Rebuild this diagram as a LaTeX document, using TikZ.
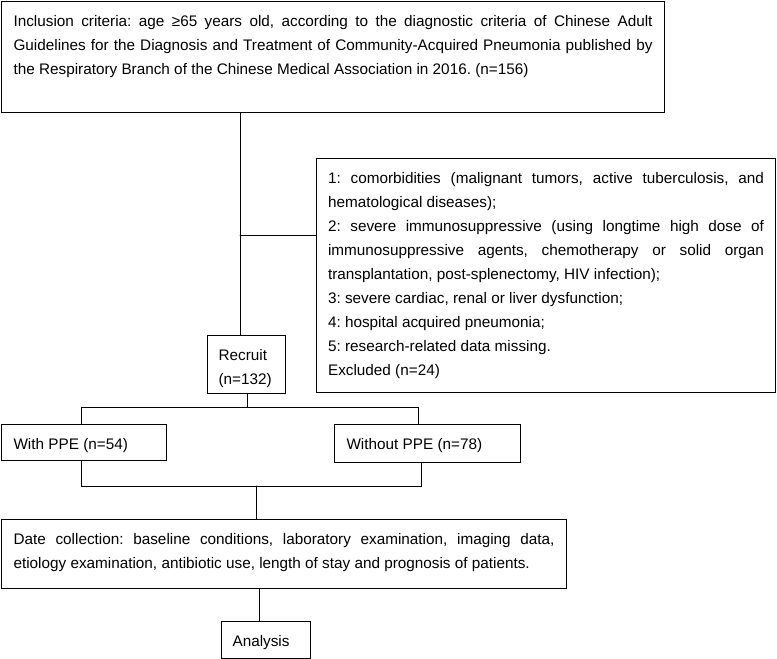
\documentclass[tikz,border=0pt]{standalone}
\usepackage{fontspec}
\setmainfont{Liberation Sans}
\usepackage{tikz}
\hyphenpenalty=10000
\exhyphenpenalty=10000
\tolerance=9999
\frenchspacing

\begin{document}
\begin{tikzpicture}
			[x=1pt,y=-1pt,line cap=round,
			%Styles
			box/.style={draw,line width=1.1pt,anchor=north west,inner xsep=12pt,inner ysep=0pt,
				align=justify,text height=24.5pt,font=\fontsize{15.3pt}{24pt}\selectfont},
			link/.style={line width=0.9pt}
			]
			
			\useasboundingbox (0,0) rectangle (777,659);
			
			%The boxes
			\node[box,text width=639pt,text depth=86.5pt] (inclusion) at (1,1)
				{Inclusion criteria: age ≥65 years old, according to the diagnostic criteria of Chinese Adult\linebreak
				Guidelines for the Diagnosis and Treatment of Community-Acquired Pneumonia published by\linebreak
				the Respiratory Branch of the Chinese Medical Association in 2016. (n=156)};
			\node[box,text width=436pt,inner xsep=11.5pt,text depth=209.5pt] (exclusion) at (316,158)
				{1: comorbidities (malignant tumors, active tuberculosis, and\linebreak hematological diseases);\par
				2: severe immunosuppressive (using longtime high dose of\linebreak immunosuppressive agents, chemotherapy or solid organ\linebreak transplantation, post-splenectomy, HIV infection);\par
				3: severe cardiac, renal or liver dysfunction;\par
				4: hospital acquired pneumonia;\par
				5: research-related data missing.\par
				Excluded (n=24)};
			\node[box,text width=56pt,inner xsep=11pt,align=left,text depth=33.5pt] (recruit) at (207,335) {Recruit\\(n=132)};
			\node[box,text width=141pt,text depth=11.5pt] (withppe) at (1,424) {With PPE (n=54)};
			\node[box,text width=162pt,text depth=13.5pt] (withoutppe) at (334,424) {Without PPE (n=78)};
			\node[box,text width=541pt,text depth=44.5pt] (collection) at (1,519)
				{Date collection: baseline conditions, laboratory examination, imaging data,\linebreak
				etiology examination, antibiotic use, length of stay and prognosis of patients.};
			\node[box,text width=67pt,inner xsep=11pt,text depth=12.5pt] (analysis) at (221,621) {Analysis};
			
			%The connectors
			\coordinate (trunk) at (240,235);
			\draw[link] (inclusion.south -| trunk) -- (recruit.north -| trunk);
			\draw[link] (trunk) -- (trunk -| exclusion.west);
			
			\coordinate (split) at (247,407);
			\coordinate (splitL) at (81,407);
			\coordinate (splitR) at (418,407);
			\draw[link] (recruit.south -| split) -- (split);
			\draw[link] (withppe.north -| splitL) -- (splitL) -- (splitR) -- (withoutppe.north -| splitR);
			
			\coordinate (merge) at (256,486);
			\coordinate (mergeL) at (81,486);
			\coordinate (mergeR) at (421,486);
			\draw[link] (withppe.south -| mergeL) -- (mergeL) -- (mergeR) -- (withoutppe.south -| mergeR);
			\draw[link] (merge) -- (collection.north -| merge);
			
			\coordinate (tail) at (259,600);
			\draw[link] (collection.south -| tail) -- (analysis.north -| tail);
		\end{tikzpicture}
\end{document}
